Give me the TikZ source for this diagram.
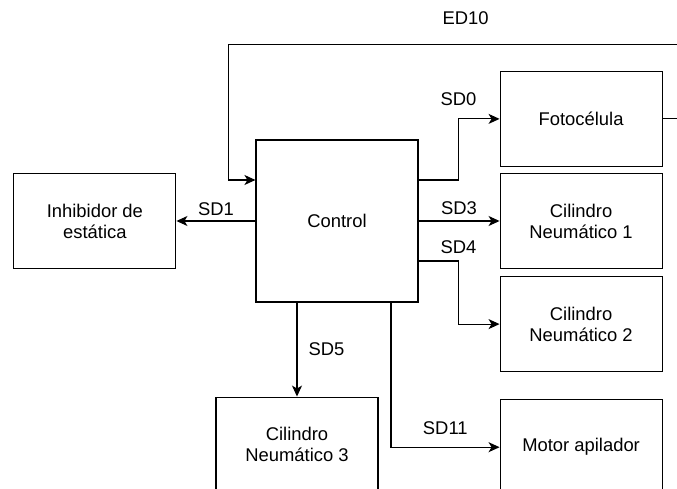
\documentclass[tikz,border=0pt]{standalone}
\usepackage{fontspec}
\setmainfont{Liberation Sans}
\usetikzlibrary{arrows.meta,positioning}

\begin{document}
\begin{tikzpicture}[
  ->,>={Stealth[length=11pt,width=10pt,inset=3pt]},
  line width=1.1pt,
  font=\fontsize{18.4}{21}\selectfont,
  box/.style={draw,minimum width=162pt,minimum height=95pt,align=center,inner sep=0pt},
  lbl/.style={inner sep=3pt},
]
  \useasboundingbox (-337pt,221pt) rectangle (340pt,-268pt);
  \clip (-337pt,221pt) rectangle (340pt,-268pt);

  \node[box,minimum height=162pt] (ctrl) {Control};
  \node[box,right=81pt of ctrl]             (cil1)  {Cilindro\\Neumático 1};
  \node[box,above=6pt of cil1]              (foto)  {Fotocélula};
  \node[box,below=7pt of cil1]              (cil2)  {Cilindro\\Neumático 2};
  \node[box,below=27pt of cil2]             (motor) {Motor apilador};
  \node[box,left=79pt of ctrl]              (inh)   {Inhibidor de\\estática};
  \node[box,below=94pt of ctrl,xshift=-40pt] (cil3) {Cilindro\\Neumático 3};
  \coordinate[above left=95pt and 27pt of ctrl.north west] (back);

  \draw ([yshift=41pt]ctrl.east) -- ++(40pt,0) |- node[lbl,pos=0.5,above=10pt]{SD0} (foto.west);
  \draw (ctrl.east) -- node[lbl,above=3pt]{SD3} (cil1.west);
  \draw ([yshift=-40pt]ctrl.east) -- node[lbl,at end,above=4pt]{SD4} ++(40pt,0) |- (cil2.west);
  \draw (ctrl.west) -- node[lbl,above=2pt]{SD1} (inh.east);
  \draw ([xshift=-40pt]ctrl.south) -- node[lbl,right=8pt]{SD5} (cil3.north);
  \draw ([xshift=54pt]ctrl.south) |- node[lbl,pos=0.75,above=9pt]{SD11} (motor.west);
  \draw (foto.east) -- ++(40pt,0) |- node[lbl,pos=0.75,above=16pt]{ED10} (back)
        |- ([yshift=41pt]ctrl.west);
\end{tikzpicture}
\end{document}
